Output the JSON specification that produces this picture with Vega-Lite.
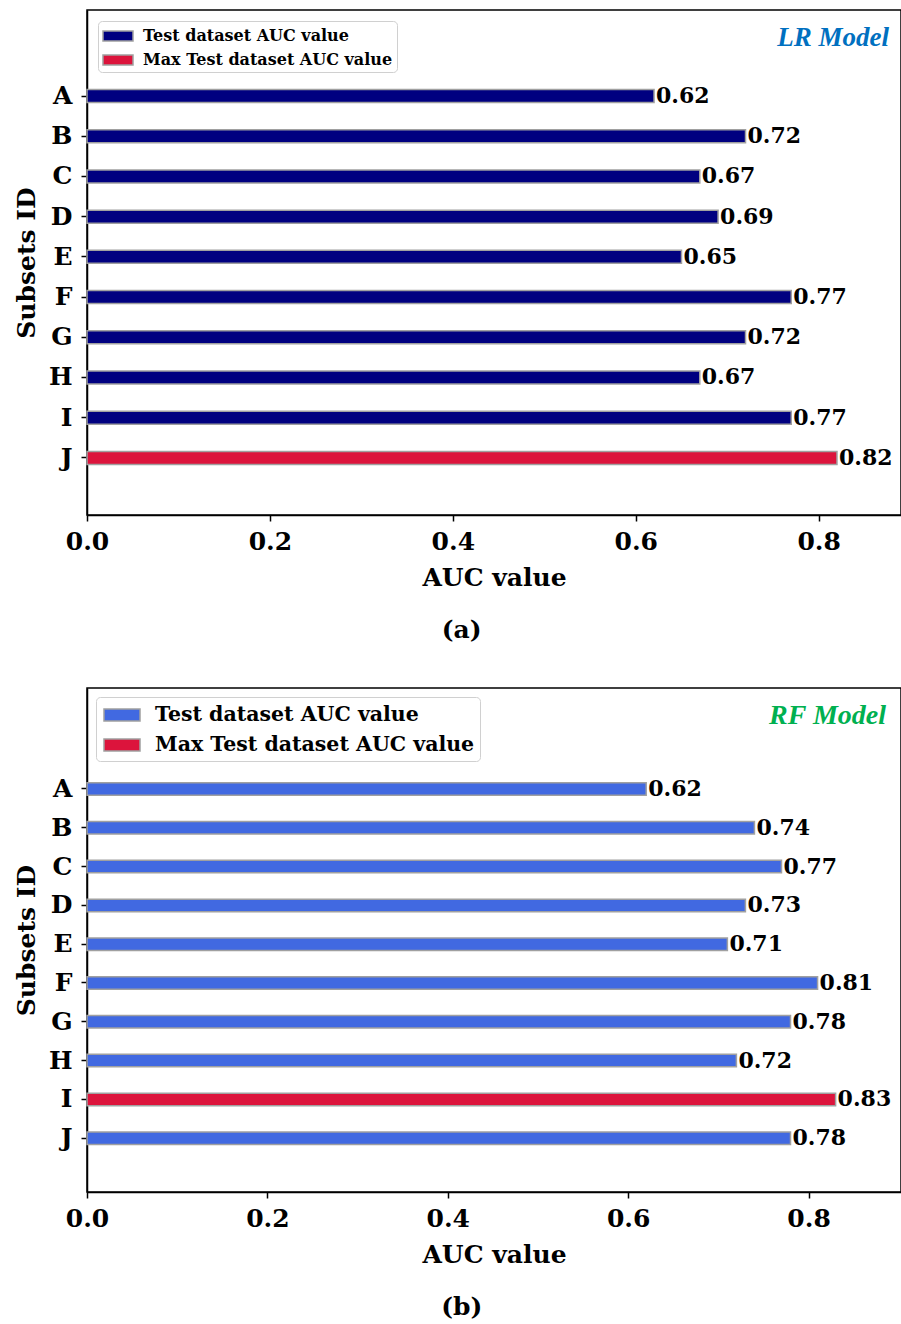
{
  "$schema": "https://vega.github.io/schema/vega-lite/v6.json",
  "background": "white",
  "padding": {"left": 13, "top": 9, "right": 0, "bottom": 0},
  "config": {
    "font": "DejaVu Serif",
    "view": {"stroke": "black", "strokeWidth": 1.5},
    "axis": {
      "labelFont": "DejaVu Serif", "labelFontWeight": "bold", "labelFontSize": 25, "labelColor": "black",
      "titleFont": "DejaVu Serif", "titleFontWeight": "bold", "titleFontSize": 25, "titleColor": "black",
      "domainColor": "black", "domainWidth": 1.5, "tickColor": "black", "tickWidth": 1.5, "tickSize": 6,
      "grid": false, "labelFlush": false
    },
    "legend": {
      "title": null, "orient": "top-left", "fillColor": "white", "strokeColor": "#d0d0d0",
      "cornerRadius": 4, "labelFont": "DejaVu Serif", "labelFontWeight": "bold", "labelColor": "black",
      "labelLimit": 600, "symbolType": "M-1.5,-0.5H1.5V0.5H-1.5Z", "symbolStrokeColor": "#a0a0a0", "symbolStrokeWidth": 1.5
    }
  },
  "datasets": {
    "lr": [
      {"subset": "A", "auc": 0.62, "series": "Test dataset AUC value"},
      {"subset": "B", "auc": 0.72, "series": "Test dataset AUC value"},
      {"subset": "C", "auc": 0.67, "series": "Test dataset AUC value"},
      {"subset": "D", "auc": 0.69, "series": "Test dataset AUC value"},
      {"subset": "E", "auc": 0.65, "series": "Test dataset AUC value"},
      {"subset": "F", "auc": 0.77, "series": "Test dataset AUC value"},
      {"subset": "G", "auc": 0.72, "series": "Test dataset AUC value"},
      {"subset": "H", "auc": 0.67, "series": "Test dataset AUC value"},
      {"subset": "I", "auc": 0.77, "series": "Test dataset AUC value"},
      {"subset": "J", "auc": 0.82, "series": "Max Test dataset AUC value"}
    ],
    "rf": [
      {"subset": "A", "auc": 0.62, "series": "Test dataset AUC value"},
      {"subset": "B", "auc": 0.74, "series": "Test dataset AUC value"},
      {"subset": "C", "auc": 0.77, "series": "Test dataset AUC value"},
      {"subset": "D", "auc": 0.73, "series": "Test dataset AUC value"},
      {"subset": "E", "auc": 0.71, "series": "Test dataset AUC value"},
      {"subset": "F", "auc": 0.81, "series": "Test dataset AUC value"},
      {"subset": "G", "auc": 0.78, "series": "Test dataset AUC value"},
      {"subset": "H", "auc": 0.72, "series": "Test dataset AUC value"},
      {"subset": "I", "auc": 0.83, "series": "Max Test dataset AUC value"},
      {"subset": "J", "auc": 0.78, "series": "Test dataset AUC value"}
    ]
  },
  "spacing": 44,
  "vconcat": [
    {
      "title": {"text": "(a)", "orient": "bottom", "anchor": "middle", "font": "DejaVu Serif", "fontWeight": "bold", "fontSize": 25, "color": "black", "dx": 4, "offset": 27},
      "vconcat": [
        {
          "width": 814, "height": 505,
          "data": {"name": "lr"},
          "title": {"text": "LR Model", "orient": "top", "anchor": "end", "frame": "group", "offset": -42, "dx": -12, "font": "Liberation Serif", "fontStyle": "italic", "fontWeight": "bold", "fontSize": 27, "color": "#0070C0"},
          "encoding": {
            "y": {"field": "subset", "type": "nominal",
                  "scale": {"domain": ["pad1", "pad2", "A", "B", "C", "D", "E", "F", "G", "H", "I", "J", "pad3"], "paddingInner": 0.72, "paddingOuter": 0.14, "align": 0},
                  "axis": {"title": "Subsets ID", "values": ["A", "B", "C", "D", "E", "F", "G", "H", "I", "J"], "labelPadding": 9, "titlePadding": 9}},
            "x": {"field": "auc", "type": "quantitative",
                  "scale": {"domain": [0, 0.89], "nice": false, "zero": true},
                  "axis": {"title": "AUC value", "values": [0, 0.2, 0.4, 0.6, 0.8], "format": ".1f", "labelPadding": 8, "titlePadding": 11}}
          },
          "layer": [
            {
              "mark": {"type": "bar", "height": 13, "stroke": "#a0a0a0", "strokeWidth": 1.5},
              "encoding": {
                "fill": {"field": "series", "type": "nominal",
                         "scale": {"domain": ["Test dataset AUC value", "Max Test dataset AUC value"], "range": ["#000080", "#DC143C"]},
                         "legend": {"labelFontSize": 16, "symbolSize": 400, "offset": 11, "padding": 4, "rowPadding": 5, "labelOffset": 14, "symbolOffset": 5}}
              }
            },
            {
              "mark": {"type": "text", "align": "left", "baseline": "middle", "dx": 2, "font": "DejaVu Serif", "fontWeight": "bold", "fontSize": 22, "color": "black"},
              "encoding": {"text": {"field": "auc", "type": "quantitative", "format": ".2f"}}
            }
          ]
        }
      ]
    },
    {
      "title": {"text": "(b)", "orient": "bottom", "anchor": "middle", "font": "DejaVu Serif", "fontWeight": "bold", "fontSize": 25, "color": "black", "dx": 4, "offset": 27},
      "vconcat": [
        {
          "width": 814, "height": 504,
          "data": {"name": "rf"},
          "title": {"text": "RF Model", "orient": "top", "anchor": "end", "frame": "group", "offset": -42, "dx": -15, "font": "Liberation Serif", "fontStyle": "italic", "fontWeight": "bold", "fontSize": 28, "color": "#00B050"},
          "encoding": {
            "y": {"field": "subset", "type": "nominal",
                  "scale": {"domain": ["pad1", "pad2", "A", "B", "C", "D", "E", "F", "G", "H", "I", "J", "pad3"], "paddingInner": 0.226, "paddingOuter": 0.108, "align": 1},
                  "axis": {"title": "Subsets ID", "values": ["A", "B", "C", "D", "E", "F", "G", "H", "I", "J"], "labelPadding": 9, "titlePadding": 9}},
            "x": {"field": "auc", "type": "quantitative",
                  "scale": {"domain": [0, 0.9025], "nice": false, "zero": true},
                  "axis": {"title": "AUC value", "values": [0, 0.2, 0.4, 0.6, 0.8], "format": ".1f", "labelPadding": 8, "titlePadding": 11}}
          },
          "layer": [
            {
              "mark": {"type": "bar", "height": 12.5, "stroke": "#a0a0a0", "strokeWidth": 1.5},
              "encoding": {
                "fill": {"field": "series", "type": "nominal",
                         "scale": {"domain": ["Test dataset AUC value", "Max Test dataset AUC value"], "range": ["#4169E1", "#DC143C"]},
                         "legend": {"labelFontSize": 20.5, "symbolSize": 576, "offset": 9, "padding": 5, "rowPadding": 6, "labelOffset": 20, "symbolOffset": 8}}
              }
            },
            {
              "mark": {"type": "text", "align": "left", "baseline": "middle", "dx": 2, "font": "DejaVu Serif", "fontWeight": "bold", "fontSize": 22, "color": "black"},
              "encoding": {"text": {"field": "auc", "type": "quantitative", "format": ".2f"}}
            }
          ]
        }
      ]
    }
  ],
  "resolve": {"scale": {"fill": "independent"}}
}
